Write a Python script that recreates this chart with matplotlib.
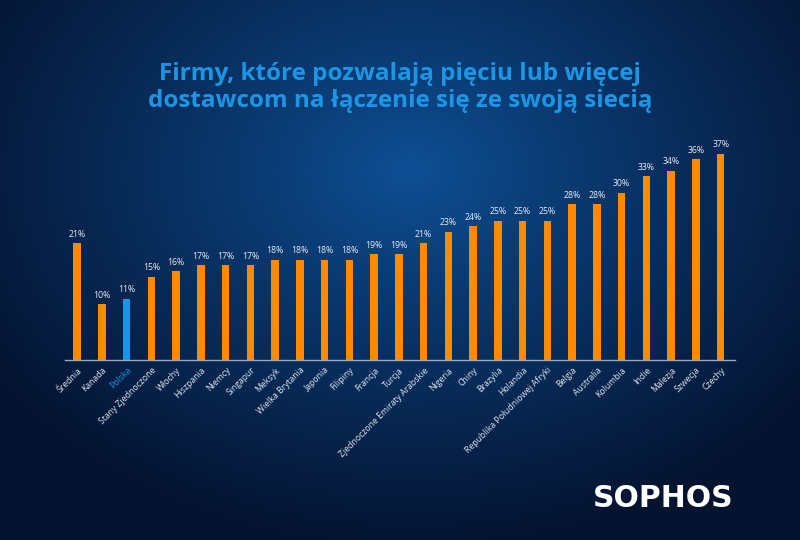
import numpy as np
import matplotlib.pyplot as plt

# data
countries = ['Średnia', 'Kanada', 'Polska', 'Stany Zjednoczone', 'Włochy', 'Hiszpania',
             'Niemcy', 'Singapur', 'Meksyk', 'Wielka Brytania', 'Japonia', 'Filipiny',
             'Francja', 'Turcja', 'Zjednoczone Emiraty Arabskie', 'Nigeria', 'Chiny',
             'Brazylia', 'Holandia', 'Republika Południowej Afryki', 'Belgia', 'Australia',
             'Kolumbia', 'Indie', 'Malezja', 'Szwecja', 'Czechy']
values = [21, 10, 11, 15, 16, 17, 17, 17, 18, 18, 18, 18, 19, 19, 21, 23, 24, 25, 25, 25,
          28, 28, 30, 33, 34, 36, 37]
highlight = 'Polska'

orange = '#ff8a00'
blue = '#1a94e6'

fig = plt.figure(figsize=(8, 5.4), dpi=100)

# radial gradient background
bg = fig.add_axes([0, 0, 1, 1])
yy, xx = np.mgrid[0:540, 0:800]
r = np.sqrt(((xx - 410) / 500.0) ** 2 + ((yy - 170) / 380.0) ** 2)
r = np.clip(r, 0, 1) ** 0.9
c_in = np.array([0x0e, 0x50, 0x96]) / 255.0
c_out = np.array([0x04, 0x13, 0x30]) / 255.0
img = c_in[None, None, :] * (1 - r[..., None]) + c_out[None, None, :] * r[..., None]
bg.imshow(img, aspect='auto', extent=[0, 1, 0, 1], origin='upper')
bg.axis('off')

ax = fig.add_axes([0.081, 0.333, 0.8375, 0.413])
ax.patch.set_alpha(0)
x = np.arange(len(countries))
colors = [blue if c == highlight else orange for c in countries]
ax.bar(x, values, width=0.3, color=colors)
for xi, v in zip(x, values):
    ax.text(xi, v + 0.8, f'{v}%', ha='center', va='bottom', fontsize=6.3,
            color='#e6ecf5', family='Open Sans')

ax.set_xlim(-0.5, 26.57)
ax.set_ylim(0, 40)
ax.set_yticks([])
ax.set_xticks(x)
ax.set_xticklabels(countries, rotation=45, ha='right', rotation_mode='anchor',
                   fontsize=6.2, family='Open Sans', color='#dfe6f0')
for lbl in ax.get_xticklabels():
    if lbl.get_text() == highlight:
        lbl.set_color(blue)
ax.tick_params(axis='x', length=0, pad=4)
for s in ['top', 'right', 'left']:
    ax.spines[s].set_visible(False)
ax.spines['bottom'].set_color('#9aa8bd')
ax.spines['bottom'].set_linewidth(1)

fig.text(0.5, 0.838, 'Firmy, które pozwalają pięciu lub więcej\ndostawcom na łączenie się ze swoją siecią',
         ha='center', va='center', fontsize=17.5, fontweight='bold', color='#1c96e4',
         family='Open Sans', linespacing=1.2)

fig.text(0.917, 0.077, 'SOPHOS', ha='right', va='center', fontsize=21.5, fontweight='bold',
         color='white', family='DejaVu Sans')

fig.savefig('out.png', dpi=100)
